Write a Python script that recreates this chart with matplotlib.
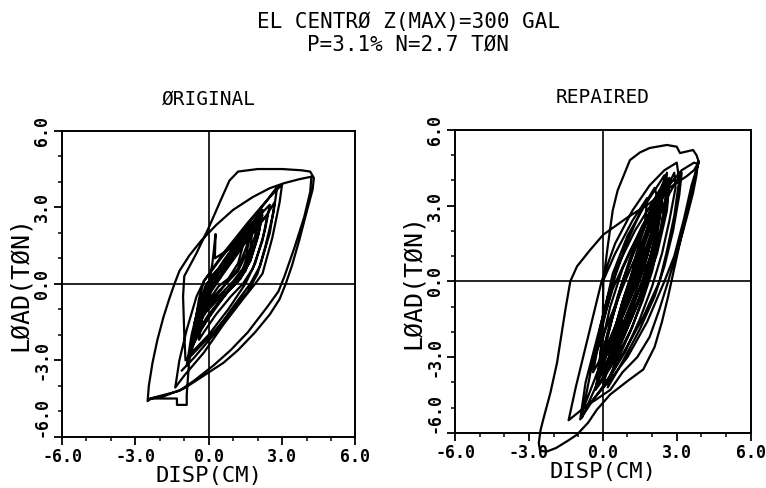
import numpy as np
import matplotlib
matplotlib.use("Agg")
import matplotlib.pyplot as plt
from matplotlib.ticker import MultipleLocator

plt.rcParams['font.family'] = ['DejaVu Sans Mono', 'DejaVu Sans']

# 图表文字
title_lines = ["EL CENTRØ Z(MAX)=300 GAL", "P=3.1% N=2.7 TØN"]
panel_titles = ["ØRIGINAL", "REPAIRED"]
x_label = "DISP(CM)"
y_label = "LØAD(TØN)"
tick_values = [-6.0, -3.0, 0.0, 3.0, 6.0]
tick_labels = ["-6.0", "-3.0", "0.0", "3.0", "6.0"]

# ORIGINAL 试件: (位移 cm, 荷载 ton), 按时间顺序连成一条轨迹
orig_early = [
    (0.0, 0.0), (0.6, 0.9), (1.2, 1.7), (1.7, 2.3), (1.6, 1.6), (1.2, 0.6), (0.7, 0.0),
    (0.2, -0.6), (-0.3, -1.3), (-0.1, -0.5), (0.2, 0.3), (0.9, 1.2), (1.6, 2.1), (2.1, 2.8),
    (1.9, 1.9), (1.5, 0.7), (1.0, 0.0), (0.4, -0.8), (-0.2, -1.6), (-0.5, -2.0), (-0.3, -1.0),
    (0.0, 0.0), (0.15, 0.8), (0.28, 1.95), (0.25, 1.0), (0.9, 1.4), (1.7, 2.3), (2.3, 2.9),
    (2.5, 3.1), (2.3, 2.1), (1.9, 0.8), (1.5, 0.0), (0.8, -1.0), (0.0, -2.0), (-0.7, -2.7),
    (-0.95, -3.0),
]
orig_big = [
    (-1.0, -2.0), (-1.05, -0.5), (-1.0, 0.3), (-0.5, 1.2), (0.0, 2.2), (0.5, 3.3), (0.85, 4.05),
    (1.2, 4.4), (2.0, 4.5), (3.0, 4.5), (3.8, 4.45), (4.15, 4.4), (4.3, 4.15), (4.25, 3.7),
    (4.0, 2.8), (3.7, 1.7), (3.4, 0.7), (3.15, 0.0), (2.9, -0.6), (2.5, -1.2), (1.9, -1.9),
    (1.2, -2.6), (0.6, -3.1), (-0.2, -3.6), (-1.0, -4.1), (-1.8, -4.4), (-2.35, -4.5),
    (-2.5, -4.6), (-2.45, -4.0), (-2.3, -3.1), (-2.1, -2.2), (-1.85, -1.3), (-1.6, -0.55),
    (-1.4, 0.0), (-1.2, 0.5), (-0.8, 1.1), (-0.3, 1.7), (0.3, 2.3), (1.0, 2.9), (1.8, 3.4),
    (2.5, 3.75), (3.1, 3.95), (3.7, 4.1), (4.2, 4.2), (4.15, 3.6), (3.9, 2.6), (3.5, 1.4),
    (3.1, 0.3), (2.85, -0.3), (2.4, -0.9), (1.6, -1.9), (0.9, -2.6), (0.2, -3.2), (-0.6, -3.8),
    (-1.2, -4.2), (-2.4, -4.5), (-1.3, -4.5), (-1.3, -4.75), (-0.9, -4.75), (-0.9, -4.35),
]
orig_core = [
    (-0.8, -3.0), (-0.6, -1.8), (-0.4, -0.6), (-0.2, 0.1), (0.5, 1.0), (1.5, 2.2), (2.5, 3.4),
    (3.0, 3.9), (2.9, 3.2), (2.6, 1.8), (2.2, 0.4), (1.9, 0.0), (1.4, -0.6), (0.6, -1.6),
    (-0.2, -2.7), (-1.0, -3.6), (-1.37, -4.07), (-1.2, -3.0), (-0.9, -1.8), (-0.5, -0.5),
    (-0.2, 0.1), (0.6, 1.2), (1.6, 2.4), (2.4, 3.3), (2.8, 3.8), (2.65, 2.8), (2.3, 1.4),
    (2.0, 0.4), (1.6, -0.3), (0.9, -1.1), (0.2, -1.9), (-0.5, -2.6), (-0.8, -2.9),
    (-0.5, -1.6), (-0.25, -0.5), (0.0, 0.0), (0.7, 0.8), (1.5, 1.8), (2.0, 2.5), (1.9, 1.6),
    (1.5, 0.5), (1.1, 0.0), (0.5, -0.5), (0.0, -1.0), (-0.2, -1.2), (0.1, -0.3), (0.6, 0.4),
    (1.2, 1.2), (1.4, 1.5), (1.2, 0.8), (0.8, 0.2), (0.4, -0.1), (-0.1, -0.8), (-0.6, -1.6),
    (-0.3, -0.6), (0.2, 0.3), (0.9, 1.1), (1.6, 2.0), (2.2, 2.7), (2.0, 1.8), (1.7, 0.9),
    (1.2, 0.1), (0.6, -0.5), (0.0, -1.2), (-0.4, -1.8), (-0.6, -2.3), (-0.45, -1.4),
    (-0.2, -0.4), (0.1, 0.3), (0.7, 0.9), (1.3, 1.7), (1.9, 2.5), (2.2, 2.9), (2.05, 2.0),
    (1.7, 0.9), (1.3, 0.2), (0.8, -0.3), (0.2, -1.0), (-0.3, -1.8), (-0.7, -2.5),
    (-0.55, -1.6), (-0.3, -0.6), (0.0, 0.1), (0.6, 0.7), (1.2, 1.4), (1.8, 2.1), (2.4, 2.7),
    (2.2, 1.7), (1.8, 0.6), (1.4, 0.0), (0.9, -0.5), (0.3, -1.2), (-0.2, -1.9), (-0.4, -2.2),
    (-0.25, -1.2), (0.0, -0.3), (0.4, 0.4), (1.0, 1.1), (1.5, 1.8), (1.8, 2.2), (1.7, 1.4),
    (1.4, 0.6), (1.0, 0.1), (0.5, -0.4), (0.0, -0.9), (-0.35, -1.5), (-0.1, -0.6), (0.3, 0.1),
    (0.9, 0.9), (1.3, 1.4), (1.7, 2.0), (1.55, 1.2), (1.2, 0.5), (0.7, 0.0), (0.2, -0.5),
    (-0.15, -1.0), (-0.9, -3.2), (-0.7, -2.0), (-0.4, -0.8), (-0.1, 0.0), (0.6, 0.6),
    (1.5, 1.6), (2.3, 2.6), (2.7, 3.2), (2.5, 2.0), (2.1, 0.7), (1.7, 0.0), (1.0, -0.9),
    (0.2, -2.0), (-0.6, -2.9), (-1.1, -3.4),
]

# REPAIRED 试件: (位移 cm, 荷载 ton)
rep_early = [
    (0.0, 0.0), (0.5, 1.1), (1.2, 2.4), (1.8, 3.3), (1.7, 2.2), (1.3, 0.9), (0.9, 0.0),
    (0.4, -1.2), (-0.1, -2.4), (-0.3, -2.9), (-0.1, -1.8), (0.2, -0.6), (0.6, 0.6), (1.3, 2.0),
    (2.0, 3.1), (2.3, 3.6), (2.2, 2.5), (1.8, 1.0), (1.4, 0.0), (0.8, -1.4), (0.2, -2.8),
    (-0.2, -3.6), (-0.05, -2.5), (0.3, -1.0), (0.8, 0.5), (1.6, 2.2), (2.3, 3.4), (2.7, 3.9),
    (2.6, 2.8), (2.2, 1.1), (1.8, 0.0), (1.2, -1.4), (0.5, -2.9), (0.0, -3.8), (-0.2, -4.1),
]
rep_tall = [
    (-0.1, -3.0), (0.0, -1.5), (0.02, 0.0), (0.2, 1.4), (0.4, 2.8), (0.6, 3.6), (0.85, 4.2),
    (1.1, 4.8), (1.5, 5.1), (1.9, 5.28), (2.6, 5.4), (3.0, 5.33), (3.13, 5.08), (3.4, 5.14),
    (3.66, 5.2), (3.8, 5.0), (3.87, 4.8), (3.8, 4.2), (3.66, 3.5), (3.45, 2.7), (3.26, 2.0),
    (3.05, 1.3), (2.86, 0.7), (2.65, 0.0), (2.3, -1.1), (1.9, -2.2), (1.4, -3.0), (0.8, -3.6),
    (0.3, -4.3), (-0.3, -4.7), (-0.8, -5.0), (-0.85, -5.4),
]
rep_outer = [
    (-0.3, -4.2), (0.3, -2.5), (0.8, -0.8), (1.4, 1.0), (2.0, 2.5), (2.6, 3.7), (3.2, 4.4),
    (3.7, 4.7), (3.85, 4.65), (3.7, 4.4), (3.4, 4.16), (2.59, 3.63), (1.91, 3.1), (0.97, 2.51),
    (0.02, 1.85), (-0.51, 1.25), (-1.05, 0.59), (-1.32, 0.0), (-1.52, -1.12), (-1.73, -2.44),
    (-1.86, -3.23), (-2.13, -4.42), (-2.4, -5.4), (-2.53, -5.9), (-2.6, -6.4), (-2.55, -6.7),
    (-2.3, -6.75), (-1.9, -6.6), (-1.4, -6.3), (-1.05, -6.07), (-0.6, -5.6), (-0.24, -5.08),
    (0.3, -4.48), (1.0, -3.95), (1.64, -3.49), (2.1, -2.6), (2.4, -1.6), (2.65, -0.6),
    (2.85, 0.3), (3.1, 1.4), (3.35, 2.5), (3.6, 3.6), (3.8, 4.4), (3.9, 4.75),
]
rep_core = [
    (3.6, 3.8), (3.3, 2.5), (2.9, 1.0), (2.5, 0.0), (1.8, -1.6), (1.0, -3.0), (0.3, -3.9),
    (-0.5, -4.8), (-1.39, -5.5), (-1.1, -4.2), (-0.7, -2.6), (-0.3, -1.0), (-0.05, 0.0),
    (0.5, 1.5), (1.2, 2.8), (1.9, 3.8), (2.5, 4.4), (3.0, 4.7), (3.1, 4.0), (2.9, 2.6),
    (2.6, 1.2), (2.3, 0.0), (1.6, -1.5), (0.8, -2.9), (0.2, -3.9), (-0.4, -4.7), (-0.92, -5.47),
    (-0.7, -4.0), (-0.3, -2.5), (0.1, -1.0), (0.4, 0.3), (1.0, 1.8), (1.7, 3.0), (2.3, 3.9),
    (2.5, 4.2), (2.4, 3.2), (2.2, 1.8), (1.9, 0.5), (1.5, -0.6), (0.9, -1.9), (0.3, -3.2),
    (-0.24, -3.96), (0.0, -2.8), (0.4, -1.4), (0.8, 0.0), (1.4, 1.5), (2.0, 2.8), (2.4, 3.6),
    (2.3, 2.5), (2.0, 1.2), (1.6, 0.0), (1.1, -1.2), (0.6, -2.4), (0.2, -3.4), (0.4, -2.2),
    (0.8, -0.8), (1.3, 0.6), (1.8, 1.9), (2.1, 2.6), (1.9, 1.5), (1.5, 0.3), (1.1, -0.7),
    (0.7, -1.6), (0.9, -0.8), (1.2, 0.0), (-0.78, -5.01), (-0.5, -3.6), (-0.1, -1.9),
    (0.4, -0.3), (1.1, 1.2), (1.8, 2.5), (2.2, 3.3), (2.1, 2.3), (1.7, 1.0), (1.2, -0.3),
    (0.6, -1.6), (0.0, -2.9), (-0.4, -3.6), (-0.2, -2.6), (0.1, -1.3), (0.5, 0.2), (1.0, 1.6),
    (1.6, 2.9), (2.1, 3.7), (2.25, 3.2), (2.0, 1.8), (1.7, 0.6), (1.3, -0.5), (0.8, -1.7),
    (0.3, -2.9), (-0.1, -3.7), (0.1, -2.6), (0.4, -1.4), (0.8, -0.1), (1.3, 1.3), (1.8, 2.5),
    (2.3, 3.5), (2.7, 4.1), (2.6, 3.1), (2.3, 1.7), (2.0, 0.4), (1.6, -0.8), (1.1, -2.0),
    (0.5, -3.1), (0.0, -3.9), (-0.3, -4.3), (-0.1, -3.2), (0.2, -2.0), (0.6, -0.6), (1.1, 0.9),
    (1.6, 2.1), (2.1, 3.2), (2.45, 3.9), (2.35, 2.9), (2.1, 1.6), (1.8, 0.3), (1.4, -0.9),
    (0.9, -2.1), (0.4, -3.2), (0.1, -3.6), (0.35, -2.6), (0.7, -1.3), (1.1, 0.0), (1.6, 1.3),
    (2.0, 2.4), (2.3, 3.0), (2.15, 2.0), (1.9, 0.9), (1.5, -0.3), (1.1, -1.3), (0.6, -2.4),
    (0.3, -3.0), (0.6, -2.0), (1.0, -0.7), (1.5, 0.7), (2.0, 2.0), (2.6, 3.3), (3.0, 4.0),
    (3.2, 4.3), (3.1, 3.4), (2.85, 2.0), (2.5, 0.6), (2.1, -0.6), (1.5, -1.9), (0.9, -3.0),
    (0.5, -3.7), (0.2, -4.2), (0.5, -3.2), (0.9, -0.6), (1.4, 1.0), (1.9, 2.4), (2.35, 3.6),
    (2.6, 4.3), (2.55, 3.4), (2.35, 2.1), (2.05, 0.8), (1.7, -0.4), (1.2, -1.8), (0.7, -2.9),
    (0.25, -3.8), (0.0, -4.2), (0.3, -3.0), (0.7, -1.6), (1.2, 0.0), (1.7, 1.5), (2.2, 2.8),
    (2.6, 3.7), (2.9, 4.3), (2.95, 3.7), (2.7, 2.4), (2.4, 1.1), (2.0, -0.2), (1.5, -1.5),
    (0.9, -2.8), (0.4, -3.6),
]


def draw_panel(ax, segments, name):
    """绘制单个滞回曲线面板"""
    pts = np.array([p for seg in segments for p in seg])
    ax.plot(pts[:, 0], pts[:, 1], color='black', linewidth=1.6,
            solid_joinstyle='round', clip_on=False)
    ax.axhline(0, color='black', linewidth=1.2)
    ax.axvline(0, color='black', linewidth=1.2)
    ax.set_xlim(-6, 6)
    ax.set_ylim(-6, 6)
    ax.set_xticks(tick_values)
    ax.set_xticklabels(tick_labels, fontsize=12, fontweight='bold')
    ax.set_yticks(tick_values)
    ax.set_yticklabels(tick_labels, fontsize=12, fontweight='bold', rotation=90, va='center')
    ax.get_yticklabels()[0].set_va('bottom')
    ax.xaxis.set_minor_locator(MultipleLocator(1.0))
    ax.yaxis.set_minor_locator(MultipleLocator(1.0))
    ax.tick_params(which='major', direction='out', length=6, width=1.3, pad=2)
    ax.tick_params(which='minor', direction='out', length=3, width=1.1)
    for sp in ax.spines.values():
        sp.set_linewidth(1.4)
    ax.set_xlabel(x_label, fontsize=16, labelpad=0)
    ax.set_ylabel(y_label, fontsize=18, labelpad=1)
    ax.set_title(name, fontsize=14, pad=19)


fig = plt.figure(figsize=(7.66, 4.88), dpi=100)
for i, line in enumerate(title_lines):
    fig.text(0.533, 0.955 - i * 0.047, line, ha='center', va='center', fontsize=15)

ax1 = fig.add_axes([0.081, 0.105, 0.383, 0.627])
draw_panel(ax1, [orig_early, orig_big, orig_core], panel_titles[0])

ax2 = fig.add_axes([0.594, 0.113, 0.386, 0.621])
draw_panel(ax2, [rep_early, rep_tall, rep_outer, rep_core], panel_titles[1])

fig.savefig('out.png', dpi=100)
